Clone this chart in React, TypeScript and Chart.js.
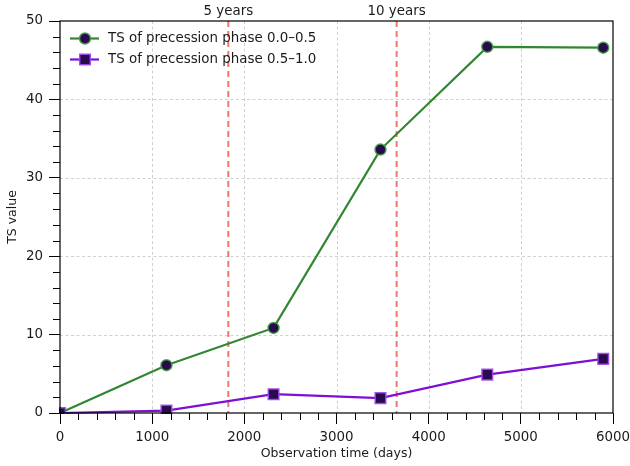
import React, { useEffect, useRef } from 'react';
import { Chart, registerables } from 'chart.js';

Chart.register(...registerables);

// ---- data ----
const days = [0, 1155, 2317, 3477, 4636, 5894];
const tsPhaseA = [0, 6.1, 10.85, 33.6, 46.7, 46.6];
const tsPhaseB = [0, 0.3, 2.4, 1.9, 4.9, 6.9];
const seriesLabels = ['TS of precession phase 0.0–0.5', 'TS of precession phase 0.5–1.0'];
const markerYears = [5, 10];
const markerLabels = ['5 years', '10 years'];
const DAYS_PER_YEAR = 365.25;
const xTitle = 'Observation time (days)';
const yTitle = 'TS value';

const FONT = 'DejaVu Sans';
const TEXT = '#1a1a1a';
const FS = 13.4;

const decorPlugin = {
  id: 'decor',
  beforeDatasetsDraw(chart: any) {
    const { ctx, chartArea: a, scales } = chart;
    const x = scales.x, y = scales.y;
    ctx.save();
    ctx.strokeStyle = 'rgba(185,185,185,0.85)';
    ctx.lineWidth = 0.8;
    ctx.setLineDash([3, 2.5]);
    x.ticks.forEach((t: any) => {
      if (t.value <= x.min || t.value >= x.max) return;
      const px = Math.round(x.getPixelForValue(t.value)) + 0.5;
      ctx.beginPath();
      ctx.moveTo(px, a.top);
      ctx.lineTo(px, a.bottom);
      ctx.stroke();
    });
    y.ticks.forEach((t: any) => {
      if (t.value <= y.min || t.value >= y.max) return;
      const py = Math.round(y.getPixelForValue(t.value)) + 0.5;
      ctx.beginPath();
      ctx.moveTo(a.left, py);
      ctx.lineTo(a.right, py);
      ctx.stroke();
    });
    ctx.strokeStyle = 'rgba(238,95,85,0.85)';
    ctx.lineWidth = 2;
    ctx.setLineDash([6, 4]);
    markerYears.forEach((yr) => {
      const px = x.getPixelForValue(yr * DAYS_PER_YEAR);
      ctx.beginPath();
      ctx.moveTo(px, a.top);
      ctx.lineTo(px, a.bottom);
      ctx.stroke();
    });
    ctx.restore();
  },
  afterDraw(chart: any) {
    const { ctx, chartArea: a, scales } = chart;
    const x = scales.x, y = scales.y;
    ctx.save();
    ctx.setLineDash([]);
    ctx.strokeStyle = '#000';
    ctx.lineWidth = 1.2;
    ctx.strokeRect(a.left, a.top, a.right - a.left, a.bottom - a.top);
    ctx.lineWidth = 1;
    for (let v = x.min; v <= x.max; v += 200) {
      if (v % 1000 === 0) continue;
      const px = Math.round(x.getPixelForValue(v)) + 0.5;
      ctx.beginPath();
      ctx.moveTo(px, a.bottom);
      ctx.lineTo(px, a.bottom + 7);
      ctx.stroke();
    }
    for (let v = y.min; v <= y.max; v += 2) {
      if (v % 10 === 0) continue;
      const py = Math.round(y.getPixelForValue(v)) + 0.5;
      ctx.beginPath();
      ctx.moveTo(a.left, py);
      ctx.lineTo(a.left - 7, py);
      ctx.stroke();
    }
    ctx.fillStyle = TEXT;
    ctx.font = `${FS}px "${FONT}"`;
    ctx.textAlign = 'center';
    ctx.textBaseline = 'middle';
    markerYears.forEach((yr, i) => {
      const px = x.getPixelForValue(yr * DAYS_PER_YEAR);
      ctx.fillText(markerLabels[i], px, a.top - 9.5);
    });
    chart.data.datasets.forEach((ds: any, i: number) => {
      const cy = a.top + 17.5 + i * 21;
      const x0 = a.left + 10, x1 = a.left + 39, cx = a.left + 25;
      ctx.strokeStyle = ds.borderColor;
      ctx.lineWidth = ds.borderWidth;
      ctx.beginPath();
      ctx.moveTo(x0, cy);
      ctx.lineTo(x1, cy);
      ctx.stroke();
      ctx.fillStyle = ds.pointBackgroundColor;
      ctx.strokeStyle = ds.pointBorderColor;
      ctx.lineWidth = ds.pointBorderWidth;
      ctx.beginPath();
      if (ds.pointStyle === 'rect') {
        const h = Math.SQRT1_2 * ds.pointRadius;
        ctx.rect(cx - h, cy - h, 2 * h, 2 * h);
      } else {
        ctx.arc(cx, cy, ds.pointRadius, 0, Math.PI * 2);
      }
      ctx.fill();
      ctx.stroke();
      ctx.fillStyle = TEXT;
      ctx.font = `${FS}px "${FONT}"`;
      ctx.textAlign = 'left';
      ctx.textBaseline = 'middle';
      ctx.fillText(ds.label, a.left + 48, cy);
    });
    ctx.restore();
  },
};

export default function App() {
  const ref = useRef<HTMLCanvasElement | null>(null);
  useEffect(() => {
    if (!ref.current) return;
    const chart = new Chart(ref.current, {
      type: 'line',
      data: {
        datasets: [
          {
            label: seriesLabels[0],
            data: days.map((d, i) => ({ x: d, y: tsPhaseA[i] })),
            borderColor: 'rgb(48,135,48)',
            borderWidth: 2.2,
            pointStyle: 'circle',
            pointRadius: 5.5,
            pointHoverRadius: 5.5,
            pointBackgroundColor: '#2a0a4e',
            pointBorderColor: 'rgba(70,160,70,0.9)',
            pointBorderWidth: 1.5,
            order: 2,
            clip: 1,
          },
          {
            label: seriesLabels[1],
            data: days.map((d, i) => ({ x: d, y: tsPhaseB[i] })),
            borderColor: 'rgb(125,15,215)',
            borderWidth: 2.2,
            pointStyle: 'rect',
            pointRadius: 7.5,
            pointHoverRadius: 7.5,
            pointBackgroundColor: '#2a0a4e',
            pointBorderColor: 'rgba(160,70,240,0.9)',
            pointBorderWidth: 1.5,
            order: 1,
            clip: 1,
          },
        ],
      },
      options: {
        responsive: false,
        animation: false,
        devicePixelRatio: 1,
        layout: { padding: { top: 21, right: 17, left: 0, bottom: 0 } },
        plugins: { legend: { display: false }, tooltip: { enabled: false } },
        scales: {
          x: {
            type: 'linear',
            min: 0,
            max: 6000,
            ticks: {
              stepSize: 1000,
              color: TEXT,
              font: { family: FONT, size: FS },
              padding: 5,
              maxRotation: 0,
              callback: (v: any) => String(v),
            },
            grid: { display: true, drawOnChartArea: false, drawTicks: true, tickLength: 11, tickColor: '#000', tickWidth: 1 },
            border: { display: false },
            title: { display: true, text: xTitle, color: TEXT, font: { family: FONT, size: 12.5 }, padding: { top: 0, bottom: 4.5 } },
            afterFit(scale: any) { scale.height = 53; scale.paddingLeft = 0; scale.paddingRight = 0; },
          },
          y: {
            type: 'linear',
            min: 0,
            max: 50,
            ticks: { stepSize: 10, color: TEXT, font: { family: FONT, size: FS }, padding: 6, callback: (v: any) => String(v) },
            grid: { display: true, drawOnChartArea: false, drawTicks: true, tickLength: 11, tickColor: '#000', tickWidth: 1 },
            border: { display: false },
            title: { display: true, text: yTitle, color: TEXT, font: { family: FONT, size: 12.5 }, padding: { top: 5, bottom: 0 } },
            afterFit(scale: any) { scale.width = 60; scale.paddingTop = 0; scale.paddingBottom = 0; },
          },
        },
      },
      plugins: [decorPlugin],
    } as any);
    return () => chart.destroy();
  }, []);
  return (
    <div style={{ position: 'absolute', left: 0, top: 0, width: 630, height: 466, background: '#fff' }}>
      <canvas ref={ref} width={630} height={466} style={{ display: 'block' }} />
    </div>
  );
}
